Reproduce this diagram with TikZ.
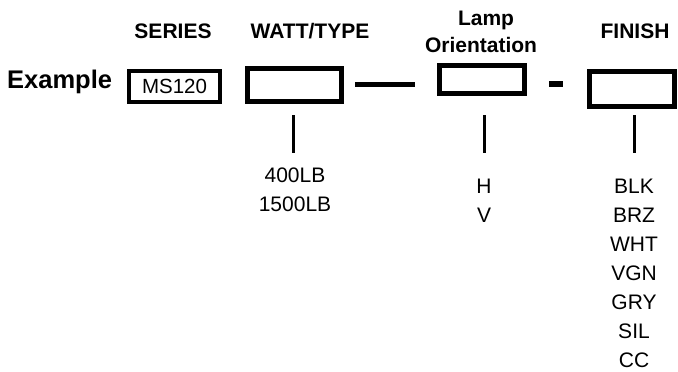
\documentclass[tikz,border=0pt]{standalone}
\usepackage{fontspec}
\setmainfont{Liberation Sans}
\begin{document}
\begin{tikzpicture}[x=1pt,y=-1pt,
  head/.style={font=\fontsize{21}{24}\selectfont\bfseries, anchor=base, inner sep=0pt},
  opt/.style={font=\fontsize{21}{24}\selectfont, anchor=base, inner sep=0pt},
  codebox/.style={draw, line width=5pt, inner sep=0pt, fill=white},
  bar/.style={line width=5pt},
  tick/.style={line width=3pt}]
\useasboundingbox (0,0) rectangle (678,372);
% headings
\node[head] (hseries) at (173,38) {SERIES};
\node[head] (hwatt) at (310,38) {WATT/TYPE};
\node[head] (hlamp) at (486,25) {Lamp};
\node[head] (horient) at (481,52) {Orientation};
\node[head] (hfinish) at (635,38) {FINISH};
% example label
\node[font=\fontsize{25.5}{28}\selectfont\bfseries, anchor=base west, inner sep=0pt] (example) at (7,88) {Example};
% boxes
\node[codebox, line width=4pt, minimum width=91pt, minimum height=31pt] (series) at (174.5,86.5) {};
\node[opt, font=\fontsize{20.5}{24}\selectfont] (ms) at (174.5,93) {MS120};
\node[codebox, minimum width=94pt, minimum height=33pt] (watt) at (294.5,85) {};
\node[codebox, minimum width=85pt, minimum height=28pt] (lamp) at (482,79.5) {};
\node[codebox, minimum width=85pt, minimum height=35pt] (finish) at (632,89) {};
% dashes
\coordinate (d1a) at (355,84); \coordinate (d1b) at (415,84);
\draw[bar] (d1a) -- (d1b);
\coordinate (d2a) at (549,84); \coordinate (d2b) at (563,84);
\draw[bar, line width=6pt] (d2a) -- (d2b);
% ticks
\coordinate (t1a) at (293,115); \coordinate (t1b) at (293,153);
\coordinate (t2a) at (484,115); \coordinate (t2b) at (484,153);
\coordinate (t3a) at (634,115); \coordinate (t3b) at (634,153);
\draw[tick] (t1a) -- (t1b);
\draw[tick] (t2a) -- (t2b);
\draw[tick] (t3a) -- (t3b);
% options
\node[opt] (w1) at (295,182) {400LB};
\node[opt] (w2) at (295,211) {1500LB};
\node[opt] (o1) at (484,193) {H};
\node[opt] (o2) at (484,222) {V};
\node[opt] (f1) at (634,193) {BLK};
\node[opt] (f2) at (634,222) {BRZ};
\node[opt] (f3) at (634,251) {WHT};
\node[opt] (f4) at (634,280) {VGN};
\node[opt] (f5) at (634,309) {GRY};
\node[opt] (f6) at (634,338) {SIL};
\node[opt] (f7) at (634,367) {CC};
\end{tikzpicture}
\end{document}
